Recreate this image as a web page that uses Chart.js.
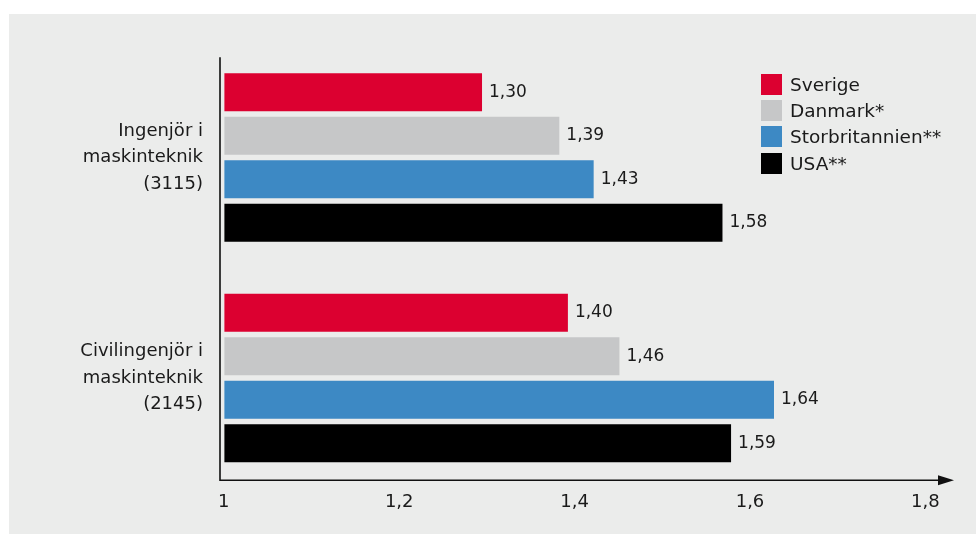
<!DOCTYPE html>
<html lang="sv">
<head>
<meta charset="utf-8">
<title>Maskiningenjörer</title>
<script src="https://cdn.jsdelivr.net/npm/chart.js@4.4.1/dist/chart.umd.min.js"></script>
<style>
  html, body {
    margin: 0;
    padding: 0;
    background: #ffffff;
    width: 976px;
    height: 534px;
    overflow: hidden;
    font-family: 'DejaVu Sans', sans-serif;
  }
  .panel {
    position: absolute;
    left: 9px;
    top: 14px;
    width: 967px;
    height: 520px;
    background: #ebeceb;
  }
  .chart-wrap {
    position: absolute;
    left: 0;
    top: 0;
    width: 967px;
    height: 520px;
  }
  .legend {
    position: absolute;
    left: 752px;
    top: 57px;
    margin: 0;
    padding: 0;
    list-style: none;
    color: #1a1a1a;
    font-size: 18.5px;
  }
  .legend li {
    display: flex;
    align-items: center;
    height: 26.4px;
  }
  .legend .swatch {
    width: 21px;
    height: 21px;
    margin-right: 8px;
    flex: none;
  }
</style>
</head>
<body>
<div class="panel">
  <div class="chart-wrap"><canvas id="salaryChart"></canvas></div>
  <ul class="legend" id="legend"></ul>
</div>
<script>
const CATEGORIES = [
  ['Ingenjör i', 'maskinteknik', '(3115)'],
  ['Civilingenjör i', 'maskinteknik', '(2145)'],
];

const SERIES_NAMES = ['Sverige', 'Danmark*', 'Storbritannien**', 'USA**'];
const SERIES_COLORS = ['#dc0030', '#c6c7c8', '#3d89c4', '#000000'];

const SVERIGE = [1.30, 1.40];
const DANMARK = [1.39, 1.46];
const STORBRITANNIEN = [1.43, 1.64];
const USA = [1.58, 1.59];

const TICK_VALUES = [1, 1.2, 1.4, 1.6, 1.8];
const TICK_LABELS = ['1', '1,2', '1,4', '1,6', '1,8'];

const TEXT_COLOR = '#1a1a1a';
Chart.defaults.font.family = "'DejaVu Sans', sans-serif";
Chart.defaults.color = TEXT_COLOR;

const formatValue = (v) => v.toFixed(2).replace('.', ',');

// axis lines: vertical line at the value-axis start, horizontal line ending in an arrow
const axisArrows = {
  id: 'axisArrows',
  afterDraw(chart) {
    const { ctx, chartArea } = chart;
    const x0 = chartArea.left;
    const yTop = chartArea.top + 10;
    const yAxis = chartArea.bottom - 8;
    const tip = chartArea.right;
    ctx.save();
    ctx.strokeStyle = '#111111';
    ctx.fillStyle = '#111111';
    ctx.lineWidth = 1.6;
    ctx.beginPath();
    ctx.moveTo(x0, yTop);
    ctx.lineTo(x0, yAxis);
    ctx.lineTo(tip - 14, yAxis);
    ctx.stroke();
    ctx.beginPath();
    ctx.moveTo(tip, yAxis);
    ctx.lineTo(tip - 16, yAxis - 5);
    ctx.lineTo(tip - 16, yAxis + 5);
    ctx.closePath();
    ctx.fill();
    ctx.restore();
  },
};

// value printed just past the end of every bar
const barValues = {
  id: 'barValues',
  afterDatasetsDraw(chart) {
    const { ctx } = chart;
    ctx.save();
    ctx.font = "17px 'DejaVu Sans', sans-serif";
    ctx.fillStyle = TEXT_COLOR;
    ctx.textAlign = 'left';
    ctx.textBaseline = 'middle';
    chart.data.datasets.forEach((ds, i) => {
      chart.getDatasetMeta(i).data.forEach((bar, j) => {
        ctx.fillText(formatValue(ds.data[j]), bar.x + 7, bar.y);
      });
    });
    ctx.restore();
  },
};

function buildDatasets() {
  const values = [SVERIGE, DANMARK, STORBRITANNIEN, USA];
  return values.map((data, i) => ({
    label: SERIES_NAMES[i],
    data,
    base: 1,
    backgroundColor: SERIES_COLORS[i],
    borderWidth: 0,
    barPercentage: 0.872,
    categoryPercentage: 0.79,
    xAxisID: 'x',
  }));
}

function buildLegend() {
  const list = document.getElementById('legend');
  SERIES_NAMES.forEach((name, i) => {
    const li = document.createElement('li');
    const sw = document.createElement('span');
    sw.className = 'swatch';
    sw.style.background = SERIES_COLORS[i];
    li.appendChild(sw);
    li.appendChild(document.createTextNode(name));
    list.appendChild(li);
  });
}

function renderChart() {
  const canvas = document.getElementById('salaryChart');
  return new Chart(canvas, {
    type: 'bar',
    data: { labels: CATEGORIES, datasets: buildDatasets() },
    plugins: [axisArrows, barValues],
    options: {
      indexAxis: 'y',
      responsive: true,
      maintainAspectRatio: false,
      animation: false,
      layout: {
        padding: { top: 33.25, right: 22, bottom: 0, left: 0 },
      },
      plugins: {
        legend: { display: false },
        tooltip: { enabled: false },
      },
      scales: {
        x: {
          type: 'linear',
          display: false,
          min: 0.99488,
          max: 1.8496,
        },
        // tick labels along the bottom
        xl: {
          type: 'linear',
          position: 'bottom',
          min: 0.99567,
          max: 1.83261,
          grid: { display: false, drawTicks: false },
          border: { display: false },
          afterBuildTicks(scale) {
            scale.ticks = TICK_VALUES.map((value) => ({ value }));
          },
          afterFit(scale) {
            scale.height = 45.75;
            scale.paddingLeft = 0;
            scale.paddingRight = 0;
          },
          ticks: {
            autoSkip: false,
            maxRotation: 0,
            padding: 3,
            color: TEXT_COLOR,
            font: { size: 18 },
            callback(value, index) {
              return TICK_LABELS[index];
            },
          },
        },
        y: {
          type: 'category',
          grid: { display: false, drawTicks: false },
          border: { display: false },
          afterFit(scale) {
            scale.width = 211;
            scale.paddingTop = 0;
            scale.paddingBottom = 0;
          },
          ticks: {
            padding: 17,
            color: TEXT_COLOR,
            font: { size: 18, lineHeight: 1.47 },
          },
        },
      },
    },
  });
}

buildLegend();
renderChart();
</script>
</body>
</html>
